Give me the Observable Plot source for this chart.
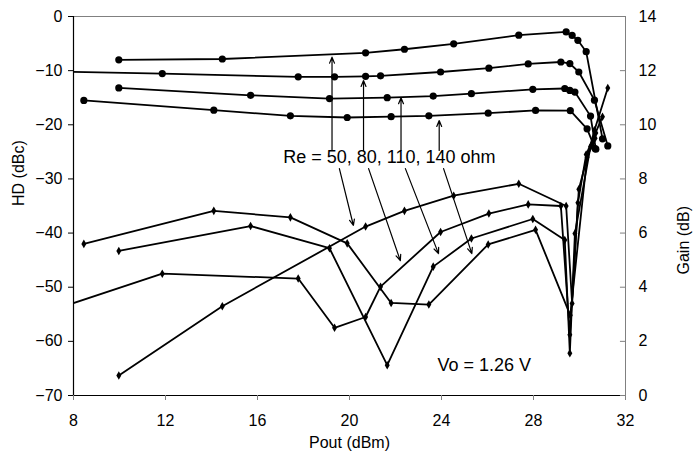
<!DOCTYPE html>
<html><head><meta charset="utf-8">
<script src="https://cdn.jsdelivr.net/npm/d3@7"></script>
<script src="https://cdn.jsdelivr.net/npm/@observablehq/plot@0.6"></script>
<style>html,body{margin:0;padding:0;background:#fff}#chart svg{display:block}</style>
</head><body><div id="chart"></div>
<script>
// Pout (dBm) per series (Re = 50, 80, 110, 140 ohm)
const pout50  = [9.97, 14.47, 20.70, 22.39, 24.53, 27.36, 29.42, 29.68, 29.93, 30.29, 31.00];
const gain50  = [12.40, 12.43, 12.66, 12.79, 12.99, 13.31, 13.43, 13.30, 13.12, 12.70, 9.48];
const hd50    = [-66.3, -53.5, -38.8, -35.9, -33.1, -30.9, -35.0, -53.0, -34.4, -25.5, -18.5];

const pout80  = [7.6, 11.86, 17.77, 19.35, 20.70, 21.35, 23.96, 26.06, 27.77, 29.19, 29.58, 29.97, 30.65, 31.23];
const gain80  = [11.96, 11.89, 11.77, 11.77, 11.79, 11.81, 11.95, 12.09, 12.25, 12.32, 12.26, 11.95, 10.91, 9.22];
const hd80    = [-53.5, -47.5, -48.4, -57.5, -55.5, -49.9, -39.8, -36.4, -34.7, -35.0, -58.8, -31.9, -21.0, -13.2];

const pout110 = [9.97, 15.70, 19.13, 21.64, 23.64, 25.30, 27.97, 29.36, 29.58, 29.80, 30.48, 30.71];
const gain110 = [11.36, 11.09, 10.97, 11.00, 11.06, 11.15, 11.31, 11.34, 11.27, 11.21, 10.32, 9.10];
const hd110   = [-43.3, -38.7, -42.8, -64.4, -46.2, -41.0, -37.4, -41.3, -62.2, -40.1, -24.0, -21.5];

const pout140 = [8.45, 14.10, 17.43, 19.90, 21.81, 23.45, 26.03, 28.09, 29.60, 30.33, 30.68];
const gain140 = [10.90, 10.54, 10.33, 10.27, 10.30, 10.33, 10.43, 10.53, 10.52, 9.85, 9.12];
const hd140   = [-42.0, -35.9, -37.1, -41.9, -52.9, -53.2, -42.1, -39.4, -55.2, -26.0, -22.5];

const seriesNames = ["50", "80", "110", "140"];
const xTicks = [8, 12, 16, 20, 24, 28, 32];
const hdTicks = [-70, -60, -50, -40, -30, -20, -10, 0];
const gainTicks = [0, 2, 4, 6, 8, 10, 12, 14];

// annotations (data units)
const reLabel = "Re = 50, 80, 110, 140 ohm";
const reLabelPos = {x: 21.73, y: -26.0};
const voLabel = "Vo = 1.26 V";
const voLabelPos = {x: 25.86, y: -64.5};
const upArrows = [
  {x1: 19.24, y1: -24.75, x2: 19.24, y2: -7.52},
  {x1: 20.61, y1: -24.75, x2: 20.61, y2: -11.82},
  {x1: 22.24, y1: -24.75, x2: 22.24, y2: -15.02},
  {x1: 23.90, y1: -24.75, x2: 23.90, y2: -19.21}
];
const downArrows = [
  {x1: 19.56, y1: -28.1, x2: 20.17, y2: -38.6},
  {x1: 20.83, y1: -28.1, x2: 22.21, y2: -45.1},
  {x1: 22.43, y1: -28.1, x2: 23.87, y2: -43.8},
  {x1: 24.09, y1: -28.1, x2: 25.32, y2: -43.8}
];

// gain (0..14 dB) shares the vertical scale with HD (-70..0 dBc)
const g2y = g => g * 5 - 70;
const y2g = y => (y + 70) / 5;

const pouts = [pout50, pout80, pout110, pout140];
const gains = [gain50, gain80, gain110, gain140];
const hds = [hd50, hd80, hd110, hd140];
const gainRows = [], hdRows = [];
seriesNames.forEach((s, i) => {
  pouts[i].forEach((p, j) => {
    gainRows.push({series: s, pout: p, y: g2y(gains[i][j])});
    hdRows.push({series: s, pout: p, y: hds[i][j]});
  });
});

const font = "'Liberation Sans', Arial, Helvetica, sans-serif";
const chart = Plot.plot({
  width: 697, height: 457,
  marginLeft: 73, marginRight: 72, marginTop: 16, marginBottom: 62,
  style: {fontFamily: font, fontSize: "16px", color: "black", background: "white"},
  x: {domain: [8, 32]},
  y: {domain: [-70, 0]},
  marks: [
    Plot.frame({stroke: "#808080", strokeWidth: 1}),
    Plot.ruleX([8], {stroke: "black", strokeWidth: 1.2}),
    Plot.ruleY([-70], {stroke: "black", strokeWidth: 1.2}),
    Plot.axisX({ticks: xTicks, tickSize: 5, tickPadding: 14, stroke: "#808080", label: null, fontSize: 16}),
    Plot.axisY({anchor: "left", ticks: hdTicks, tickSize: 5, tickPadding: 6, label: null, fontSize: 16}),
    Plot.axisY({anchor: "right", ticks: gainTicks.map(g2y), tickFormat: y2g, tickSize: 0, tickPadding: 13, label: null, fontSize: 16}),
    Plot.ruleY(gainTicks.map(g2y), {x1: 32 - 0.22, x2: 32, stroke: "#808080"}),
    Plot.line(hdRows, {x: "pout", y: "y", z: "series", stroke: "black", strokeWidth: 1.8, clip: true}),
    Plot.dot(hdRows.filter(d => d.pout >= 8), {x: "pout", y: "y", symbol: "diamond", r: 2.6, fill: "black"}),
    Plot.line(gainRows, {x: "pout", y: "y", z: "series", stroke: "black", strokeWidth: 1.8, clip: true}),
    Plot.dot(gainRows.filter(d => d.pout >= 8), {x: "pout", y: "y", r: 3.6, fill: "black"}),
    Plot.arrow(upArrows, {x1: "x1", y1: "y1", x2: "x2", y2: "y2", stroke: "black", strokeWidth: 1.2, headLength: 8, headAngle: 45, bend: 0}),
    Plot.arrow(downArrows, {x1: "x1", y1: "y1", x2: "x2", y2: "y2", stroke: "black", strokeWidth: 1.2, headLength: 8, headAngle: 45, bend: 0}),
    Plot.text([reLabel], {x: reLabelPos.x, y: reLabelPos.y, text: d => d, fontSize: 18, fill: "black", fontFamily: font}),
    Plot.text([voLabel], {x: voLabelPos.x, y: voLabelPos.y, text: d => d, fontSize: 18, fill: "black", fontFamily: font}),
    Plot.text(["HD (dBc)"], {frameAnchor: "left", dx: -55, rotate: -90, text: d => d, fontSize: 16, fill: "black"}),
    Plot.text(["Gain (dB)"], {frameAnchor: "right", dx: 58, rotate: -90, text: d => d, fontSize: 16, fill: "black"}),
    Plot.text(["Pout (dBm)"], {frameAnchor: "bottom", dy: 52, text: d => d, fontSize: 16, fill: "black"})
  ]
});
document.getElementById("chart").appendChild(chart);
</script>
</body></html>
